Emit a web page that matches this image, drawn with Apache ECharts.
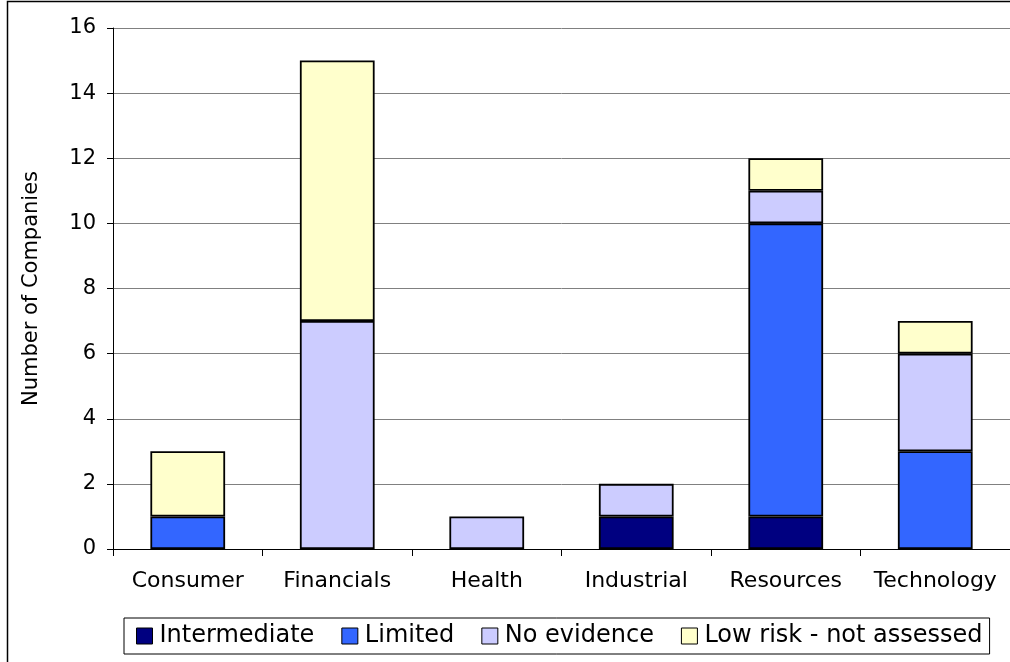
<!DOCTYPE html>
<html>
<head>
<meta charset="utf-8">
<script src="https://cdn.jsdelivr.net/npm/echarts@6/dist/echarts.min.js"></script>
<style>
html,body{margin:0;padding:0;background:#fff;}
#chart{width:1010px;height:662px;}
</style>
</head>
<body>
<div id="chart"></div>
<script>
const categories = ['Consumer', 'Financials', 'Health', 'Industrial', 'Resources', 'Technology'];
const intermediate = [0, 0, 0, 1, 1, 0];
const limited = [1, 0, 0, 0, 9, 3];
const noEvidence = [0, 7, 1, 1, 1, 3];
const lowRisk = [2, 8, 0, 0, 1, 1];
const seriesNames = ['Intermediate', 'Limited', 'No evidence', 'Low risk - not assessed'];
const seriesColors = ['#000080', '#3366FF', '#CCCCFF', '#FFFFCC'];
const yTicks = [0, 2, 4, 6, 8, 10, 12, 14, 16];

const FONT = 'DejaVu Sans';
const chart = echarts.init(document.getElementById('chart'), null, {renderer: 'canvas'});
const allData = [intermediate, limited, noEvidence, lowRisk];

chart.setOption({
  animation: false,
  backgroundColor: '#fff',
  textStyle: {fontFamily: FONT},
  graphic: [{
    type: 'rect',
    shape: {x: 7.5, y: 1.5, width: 1010, height: 670},
    style: {fill: 'none', stroke: '#000', lineWidth: 1.5},
    silent: true,
    z: 0
  }],
  grid: {left: 113, right: 0, top: 28, bottom: 113, containLabel: false},
  legend: {
    left: 124, top: 618,
    width: 900,
    padding: [6, 7, 6, 12],
    itemGap: 27,
    itemWidth: 16, itemHeight: 16,
    borderColor: '#000', borderWidth: 1,
    icon: 'rect',
    textStyle: {fontFamily: FONT, fontSize: 24, color: '#000', padding: [0, 0, 0, 2]},
    data: seriesNames.map((n, i) => ({name: n, itemStyle: {borderColor: '#000', borderWidth: 1}}))
  },
  xAxis: {
    type: 'category',
    data: categories,
    boundaryGap: true,
    axisLine: {lineStyle: {color: '#000', width: 1}},
    axisTick: {show: true, interval: 0, alignWithLabel: false, length: 7, lineStyle: {color: '#000'}},
    axisLabel: {interval: 0, fontFamily: FONT, fontSize: 22, color: '#000', margin: 21},
    splitLine: {show: false}
  },
  yAxis: {
    type: 'value',
    min: yTicks[0], max: yTicks[yTicks.length - 1], interval: 2,
    name: 'Number of Companies',
    nameLocation: 'middle',
    nameGap: 71,
    nameRotate: 90,
    nameTextStyle: {fontFamily: FONT, fontSize: 21, color: '#000'},
    axisLine: {show: true, lineStyle: {color: '#000', width: 1}},
    axisTick: {show: true, length: 6, lineStyle: {color: '#000'}},
    axisLabel: {fontFamily: FONT, fontSize: 21, color: '#000', margin: 17},
    splitLine: {show: true, lineStyle: {color: '#808080', width: 1}}
  },
  series: seriesNames.map((name, i) => ({
    name: name,
    type: 'bar',
    stack: 'total',
    barWidth: '50%',
    data: allData[i].map(v => v === 0 ? '-' : v),
    itemStyle: {color: seriesColors[i], borderColor: '#000', borderWidth: 1.8}
  }))
});
</script>
</body>
</html>
